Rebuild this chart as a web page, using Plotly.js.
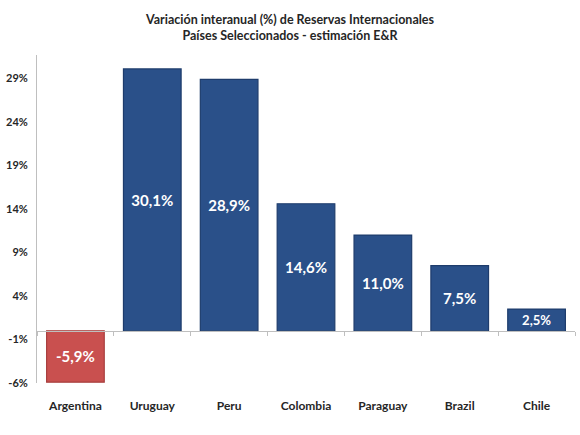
<!DOCTYPE html>
<html>
<head>
<meta charset="utf-8">
<script src="https://cdn.plot.ly/plotly-3.0.1.min.js"></script>
<style>
  html, body { margin: 0; padding: 0; background: #fff; }
  #chart { width: 580px; height: 435px; }
</style>
</head>
<body>
<div id="chart"></div>
<script>
const countries = ['Argentina', 'Uruguay', 'Peru', 'Colombia', 'Paraguay', 'Brazil', 'Chile'];
const variation = [-5.9, 30.1, 28.9, 14.6, 11.0, 7.5, 2.5];
const yTicks = [-6, -1, 4, 9, 14, 19, 24, 29];
const yTickLabels = ['-6%', '-1%', '4%', '9%', '14%', '19%', '24%', '29%'];

const barLabels = variation.map(v => v.toFixed(1).replace('.', ',') + '%');
const fillColors = variation.map(v => v < 0 ? '#C9504F' : '#2A5089');
const edgeColors = variation.map(v => v < 0 ? '#A8403F' : '#1E3C6C');

const bars = {
  x: countries,
  y: variation,
  type: 'bar',
  text: barLabels,
  textposition: 'inside',
  insidetextanchor: 'middle',
  textangle: 0,
  textfont: { family: 'Lato, "Open Sans", sans-serif', size: 15, color: '#ffffff', weight: 'bold' },
  marker: { color: fillColors, line: { color: edgeColors, width: 1.2 } },
  hoverinfo: 'x+y',
  cliponaxis: false
};

// invisible copy so the tick marks along zero get their own axis
const zeroTicks = {
  x: countries,
  y: variation,
  type: 'bar',
  xaxis: 'x2',
  opacity: 0,
  hoverinfo: 'skip',
  showlegend: false
};

const yMin = -6, yMax = 31.7;
const zeroPos = (0 - yMin) / (yMax - yMin);

const layout = {
  width: 580,
  height: 435,
  margin: { l: 37, r: 5, t: 55, b: 52 },
  paper_bgcolor: '#ffffff',
  plot_bgcolor: '#ffffff',
  showlegend: false,
  bargap: 0.25,
  barmode: 'overlay',
  title: {
    text: '<b>Variación interanual (%) de Reservas Internacionales<br>Países Seleccionados - estimación E&R</b>',
    font: { family: 'Lato, "Open Sans", sans-serif', size: 12.5, color: '#262626' },
    x: 0.5,
    xanchor: 'center',
    y: 0.945,
    yanchor: 'top'
  },
  xaxis: {
    type: 'category',
    showline: false,
    showgrid: false,
    zeroline: false,
    ticks: '',
    ticklabelstandoff: 14,
    tickfont: { family: 'Lato, "Open Sans", sans-serif', size: 12, color: '#262626', weight: 'bold' },
    fixedrange: true
  },
  xaxis2: {
    type: 'category',
    overlaying: 'x',
    anchor: 'free',
    position: zeroPos,
    side: 'bottom',
    showline: true,
    linecolor: '#BFBFBF',
    linewidth: 1,
    showgrid: false,
    ticks: 'outside',
    tickson: 'boundaries',
    ticklen: 4,
    tickcolor: '#BFBFBF',
    showticklabels: false
  },
  yaxis: {
    range: [yMin, yMax],
    tickvals: yTicks,
    ticktext: yTickLabels,
    showgrid: false,
    zeroline: false,
    showline: true,
    linecolor: '#BFBFBF',
    linewidth: 1,
    ticks: '',
    ticklabelstandoff: 6,
    tickfont: { family: 'Lato, "Open Sans", sans-serif', size: 11, color: '#262626', weight: 'bold' },
    fixedrange: true
  }
};

Plotly.newPlot('chart', [bars, zeroTicks], layout, { displayModeBar: false, staticPlot: true });
</script>
</body>
</html>
